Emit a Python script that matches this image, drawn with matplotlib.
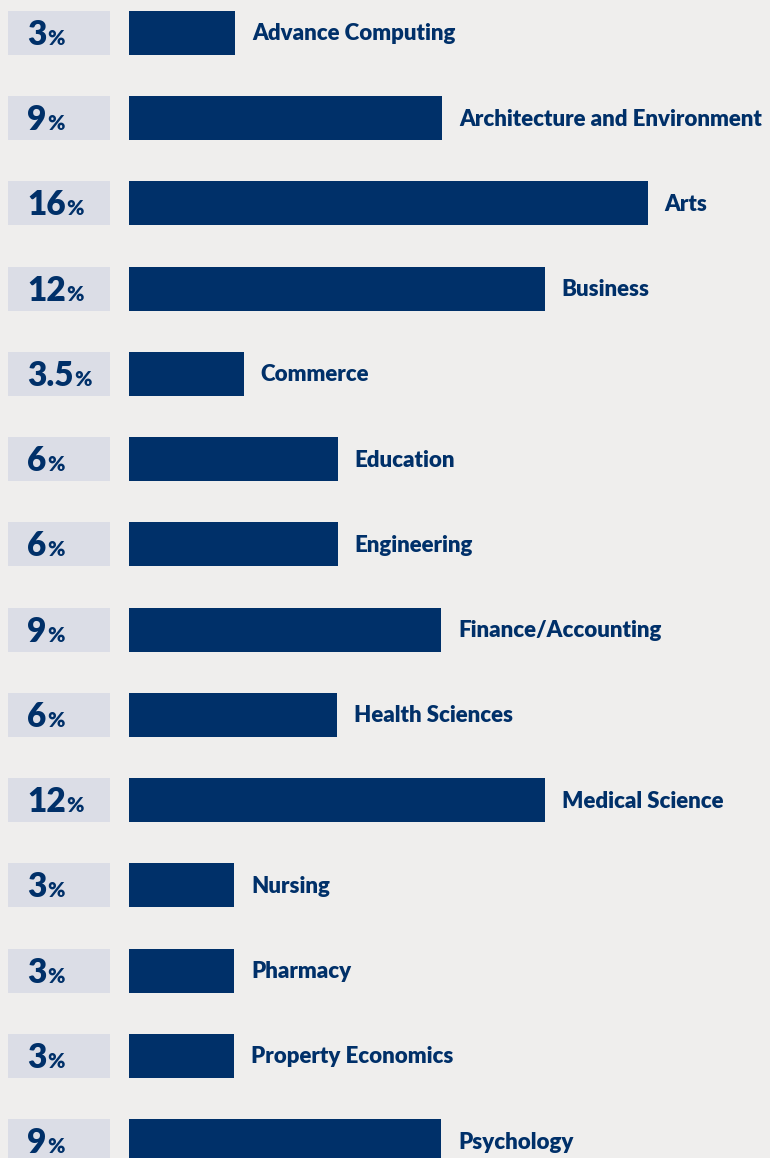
#!/usr/bin/env python3
# horizontal bar chart of study areas, with percentage boxes on the left

import matplotlib
matplotlib.use("Agg")
import matplotlib.pyplot as plt

categories = ["Advance Computing", "Architecture and Environment", "Arts", "Business",
              "Commerce", "Education", "Engineering", "Finance/Accounting",
              "Health Sciences", "Medical Science", "Nursing", "Pharmacy",
              "Property Economics", "Psychology"]
pct_labels = ["3", "9", "16", "12", "3.5", "6", "6", "9", "6", "12", "3", "3", "3", "9"]
# bar lengths as drawn in the picture (not exactly proportional to the labels)
bar_lengths = [3.05, 9.0, 14.9, 11.95, 3.3, 6.0, 6.0, 8.97, 5.97, 11.95, 3.02, 3.02, 3.02, 8.97]

NAVY = "#003069"
BOX = "#dbdde6"
BG = "#efeeed"

W, H = 770, 1158
scale = 34.8        # px per percent
x0 = 129            # px where bars start
row_h = 85.25       # px between rows
top = 33            # px, centre of first row

plt.rcParams['font.family'] = ['Lato', 'DejaVu Sans']

fig = plt.figure(figsize=(W / 100, H / 100), dpi=100, facecolor=BG)
ax = fig.add_axes((0, 0, 1, 1))
ax.set_facecolor(BG)
ax.set_xlim(-x0 / scale, (W - x0) / scale)
ax.set_ylim((H - top) / row_h, -top / row_h)
ax.axis("off")

rows = list(range(len(categories)))
bar_h = 44 / row_h

ax.barh(rows, bar_lengths, height=bar_h, left=0, color=NAVY)
ax.barh(rows, [102 / scale] * len(rows), height=bar_h, left=-121 / scale, color=BOX)

px = 72 / 100  # points per pixel
num_texts = []
for i, (cat, lab, val) in enumerate(zip(categories, pct_labels, bar_lengths)):
    ax.annotate(cat, xy=(val, i), xytext=(17 * px, -7.5 * px), textcoords="offset points",
                ha="left", va="baseline", fontsize=16, fontweight="heavy", color=NAVY)
    t = ax.annotate(lab, xy=(-102 / scale, i), xytext=(0, -12 * px), textcoords="offset points",
                    ha="left", va="baseline", fontsize=24, fontweight="heavy", color=NAVY)
    num_texts.append(t)

# put the small % sign right after each number
fig.canvas.draw()
renderer = fig.canvas.get_renderer()
for i, t in enumerate(num_texts):
    bb = t.get_window_extent(renderer)
    yc = fig.transFigure.inverted().transform(ax.transData.transform((0, i)))[1]
    fig.text((bb.x1 + 0.5) / W, yc - 12 / H, "%", ha="left", va="baseline",
             fontsize=15, fontweight="heavy", color=NAVY)

fig.savefig("out.png", dpi=100, facecolor=BG)
